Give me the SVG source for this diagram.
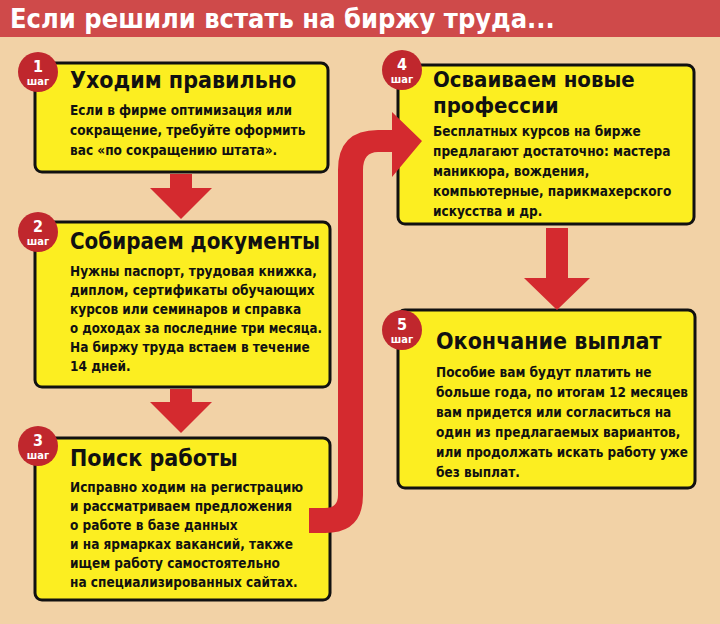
<svg xmlns="http://www.w3.org/2000/svg" width="720" height="624" viewBox="0 0 720 624">
<style>
.box{fill:#fcee21;stroke:#111;stroke-width:3}
.t{font-family:"DejaVu Sans Condensed","DejaVu Sans",sans-serif;font-weight:bold;fill:#111}
.h{font-size:23px}
.b{font-size:13.5px}
.badge{fill:#c0272d}
.bn{font-family:"DejaVu Sans Condensed","DejaVu Sans",sans-serif;font-weight:bold;fill:#fff;text-anchor:middle}
.arr{fill:#d42a2f}
</style>
<rect width="720" height="624" fill="#f2d2a6"/>
<rect width="720" height="37" fill="#cf4a4a"/>
<text x="10" y="28" font-family="DejaVu Sans Condensed,DejaVu Sans,sans-serif" font-weight="bold" font-size="27" fill="#fff">Если решили встать на биржу труда...</text>
<g id="n1"><rect class="box" x="35" y="63" width="293" height="109" rx="7"/>
<circle class="badge" cx="38" cy="72" r="20"/><text class="bn" x="38" y="72" font-size="16">1</text><text class="bn" x="38" y="85" font-size="11">шаг</text>
<text class="t h" x="70" y="88">Уходим правильно</text>
<text class="t b" x="70" y="115">Если в фирме оптимизация или</text>
<text class="t b" x="70" y="135">сокращение, требуйте оформить</text>
<text class="t b" x="70" y="155">вас «по сокращению штата».</text></g>
<g id="n2"><rect class="box" x="35" y="222" width="295" height="165" rx="7"/>
<circle class="badge" cx="38" cy="232" r="20"/><text class="bn" x="38" y="232" font-size="16">2</text><text class="bn" x="38" y="245" font-size="11">шаг</text>
<text class="t h" x="70" y="249" textLength="250" lengthAdjust="spacingAndGlyphs">Собираем документы</text>
<text class="t b" x="70" y="276">Нужны паспорт, трудовая книжка,</text>
<text class="t b" x="70" y="295">диплом, сертификаты обучающих</text>
<text class="t b" x="70" y="314">курсов или семинаров и справка</text>
<text class="t b" x="70" y="333" textLength="252" lengthAdjust="spacingAndGlyphs">о доходах за последние три месяца.</text>
<text class="t b" x="70" y="352">На биржу труда встаем в течение</text>
<text class="t b" x="70" y="371">14 дней.</text></g>
<g id="n3"><rect class="box" x="35" y="438" width="295" height="162" rx="7"/>
<circle class="badge" cx="38" cy="446" r="20"/><text class="bn" x="38" y="446" font-size="16">3</text><text class="bn" x="38" y="459" font-size="11">шаг</text>
<text class="t h" x="70" y="466">Поиск работы</text>
<text class="t b" x="70" y="492">Исправно ходим на регистрацию</text>
<text class="t b" x="70" y="511">и рассматриваем предложения</text>
<text class="t b" x="70" y="530">о работе в базе данных</text>
<text class="t b" x="70" y="549">и на ярмарках вакансий, также</text>
<text class="t b" x="70" y="568">ищем работу самостоятельно</text>
<text class="t b" x="70" y="587">на специализированных сайтах.</text></g>
<g id="n4"><rect class="box" x="398" y="65" width="296" height="159" rx="7"/>
<circle class="badge" cx="402" cy="70" r="20"/><text class="bn" x="402" y="70" font-size="16">4</text><text class="bn" x="402" y="83" font-size="11">шаг</text>
<text class="t" font-size="22" x="433" y="87">Осваиваем новые</text>
<text class="t" font-size="22" x="433" y="113">профессии</text>
<text class="t b" x="433" y="136">Бесплатных курсов на бирже</text>
<text class="t b" x="433" y="156">предлагают достаточно: мастера</text>
<text class="t b" x="433" y="176">маникюра, вождения,</text>
<text class="t b" x="433" y="196">компьютерные, парикмахерского</text>
<text class="t b" x="433" y="216">искусства и др.</text></g>
<g id="n5"><rect class="box" x="398" y="310" width="297" height="178" rx="7"/>
<circle class="badge" cx="402" cy="330" r="20"/><text class="bn" x="402" y="330" font-size="16">5</text><text class="bn" x="402" y="343" font-size="11">шаг</text>
<text class="t h" x="436" y="349">Окончание выплат</text>
<text class="t b" x="436" y="377">Пособие вам будут платить не</text>
<text class="t b" x="436" y="397" textLength="252" lengthAdjust="spacingAndGlyphs">больше года, по итогам 12 месяцев</text>
<text class="t b" x="436" y="417">вам придется или согласиться на</text>
<text class="t b" x="436" y="437">один из предлагаемых вариантов,</text>
<text class="t b" x="436" y="457" textLength="252" lengthAdjust="spacingAndGlyphs">или продолжать искать работу уже</text>
<text class="t b" x="436" y="477">без выплат.</text></g>
<g id="connectors">
<polygon class="arr" points="170,174 192,174 192,188 212,188 181,219 150,188 170,188"/>
<polygon class="arr" points="170,389 192,389 192,402 212,402 181,433 150,402 170,402"/>
<polygon class="arr" points="546,228 568,228 568,278 590,278 557,310 524,278 546,278"/>
<path class="arr" d="M309,508 H325 Q338,508 338,495 V170 Q338,130 378,130 H392 V112 L422,141 L392,177 V152 H378 Q363,152 363,170 V495 Q363,533 325,533 H309 Z"/>
</g>
</svg>
